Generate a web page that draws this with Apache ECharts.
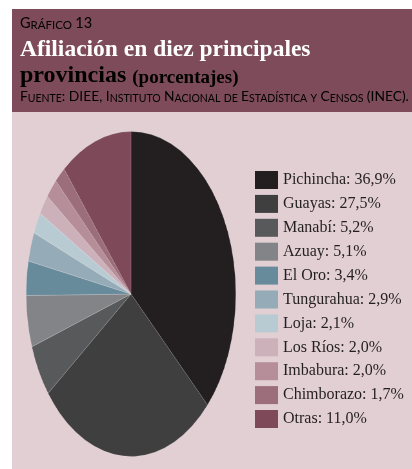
<!DOCTYPE html>
<html>
<head>
<meta charset="utf-8">
<script src="https://cdn.jsdelivr.net/npm/echarts@6/dist/echarts.min.js"></script>
<style>
html, body { margin: 0; padding: 0; background: #fff; }
#wrap { position: relative; width: 412px; height: 469px; overflow: hidden; }
#main { position: absolute; left: 0; top: 0; width: 412px; height: 469px; }
/* the pie is drawn round and squeezed into the oval of the original */
#pie { position: absolute; left: -39.5px; top: 123.5px; width: 340px; height: 340px;
       transform: scaleX(0.645); transform-origin: 50% 50%; }
</style>
</head>
<body>
<div id="wrap"><div id="main"></div><div id="pie"></div></div>
<script>
var provincias = ['Pichincha', 'Guayas', 'Manabí', 'Azuay', 'El Oro', 'Tungurahua',
    'Loja', 'Los Ríos', 'Imbabura', 'Chimborazo', 'Otras'];
var porcentajes = [36.9, 27.5, 5.2, 5.1, 3.4, 2.9, 2.1, 2.0, 2.0, 1.7, 11.0];
var colores = ['#231f20', '#3f3f40', '#58595b', '#838487', '#688b9b', '#95abb7',
    '#b9cbd2', '#cdb1ba', '#b68e99', '#9c6e7b', '#7e4a5a'];

var serif = '"Liberation Serif", serif';
var sans = 'Lato, sans-serif';

var pieData = [];
for (var i = 0; i < provincias.length; i++) {
    pieData.push({name: provincias[i], value: porcentajes[i], itemStyle: {color: colores[i]}});
}

function capsStyle(size) {
    return {fontSize: size, fontFamily: sans, color: '#e6ccd4', lineHeight: 15, verticalAlign: 'bottom'};
}

var mainChart = echarts.init(document.getElementById('main'));
var option = {
    animation: false,
    backgroundColor: '#ffffff',
    graphic: [
        {type: 'rect', shape: {x: 12, y: 9, width: 400, height: 103}, style: {fill: '#7e4b5b'}, silent: true},
        {type: 'rect', shape: {x: 12, y: 112, width: 400, height: 357}, style: {fill: '#e2cfd4'}, silent: true},
        {
            type: 'text', x: 20, y: 16, silent: true,
            style: {
                text: '{b|G}{s|RÁFICO} {b|13}',
                rich: {b: capsStyle(14.5), s: capsStyle(11.5)},
                verticalAlign: 'top'
            }
        },
        {
            type: 'text', x: 20, y: 38, silent: true,
            style: {
                text: 'Afiliación en diez principales',
                font: 'bold 23.5px "Liberation Serif", serif',
                fill: '#ffffff',
                verticalAlign: 'top'
            }
        },
        {
            type: 'text', x: 20, y: 60, silent: true,
            style: {
                text: '{a|provincias }{p|(porcentajes)}',
                rich: {
                    a: {fontSize: 24, fontWeight: 'bold', fontFamily: serif, color: '#fff', lineHeight: 28, verticalAlign: 'bottom'},
                    p: {fontSize: 19, fontWeight: 'bold', fontFamily: serif, color: '#fff', lineHeight: 28, verticalAlign: 'bottom'}
                },
                verticalAlign: 'top'
            }
        },
        {
            type: 'text', x: 20, y: 89, silent: true,
            style: {
                text: '{b|F}{s|UENTE}{b|: DIEE, I}{s|NSTITUTO} {b|N}{s|ACIONAL} {s|DE} {b|E}{s|STADÍSTICA} {s|Y} {b|C}{s|ENSOS} {b|(INEC).}',
                rich: {b: capsStyle(13.8), s: capsStyle(10.5)},
                verticalAlign: 'top'
            }
        }
    ],
    legend: {
        orient: 'vertical',
        left: 255,
        top: 171,
        padding: 0,
        itemWidth: 23,
        itemHeight: 18,
        itemGap: 5.9,
        icon: 'rect',
        selectedMode: false,
        textStyle: {fontFamily: serif, fontSize: 16, color: '#231f20'},
        formatter: function (name) {
            var k = provincias.indexOf(name);
            return name + ': ' + porcentajes[k].toFixed(1).replace('.', ',') + '%';
        },
        data: provincias
    },
    series: [{
        // only feeds the legend; the visible pie is in the second chart
        type: 'pie',
        center: [-400, -400],
        radius: [0, 1],
        silent: true,
        label: {show: false},
        labelLine: {show: false},
        data: pieData
    }]
};
mainChart.setOption(option);

var pieChart = echarts.init(document.getElementById('pie'));
pieChart.setOption({
    animation: false,
    series: [{
        type: 'pie',
        center: [170, 170],
        radius: [0, 162.5],
        startAngle: 90,
        clockwise: true,
        silent: true,
        label: {show: false},
        labelLine: {show: false},
        itemStyle: {borderWidth: 0.6, borderColor: 'rgba(255,255,255,0.25)'},
        data: pieData
    }]
});
</script>
</body>
</html>
